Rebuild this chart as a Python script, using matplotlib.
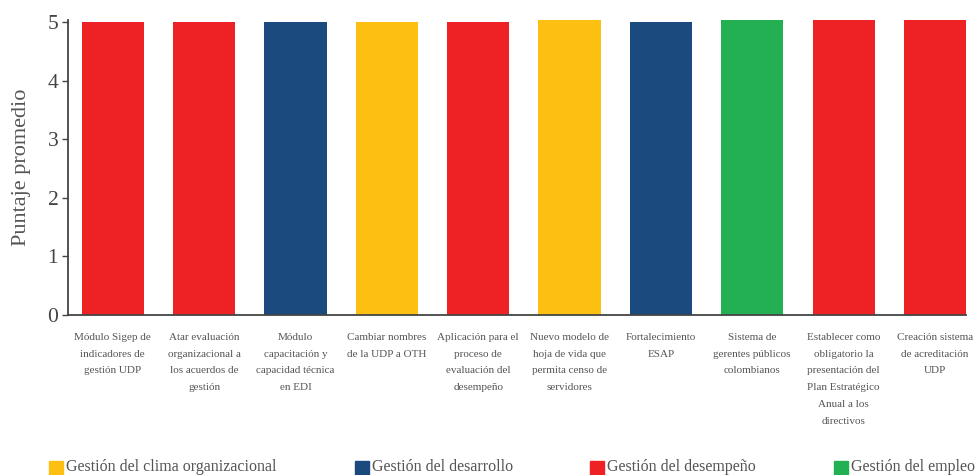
import matplotlib
matplotlib.use("Agg")
import matplotlib.pyplot as plt
from matplotlib.patches import Rectangle

# Iniciativas y su puntaje promedio
categorias = [
    "Módulo Sigep de\nindicadores de\ngestión UDP",
    "Atar evaluación\norganizacional a\nlos acuerdos de\ngestión",
    "Módulo\ncapacitación y\ncapacidad técnica\nen EDI",
    "Cambiar nombres\nde la UDP a OTH",
    "Aplicación para el\nproceso de\nevaluación del\ndesempeño",
    "Nuevo modelo de\nhoja de vida que\npermita censo de\nservidores",
    "Fortalecimiento\nESAP",
    "Sistema de\ngerentes públicos\ncolombianos",
    "Establecer como\nobligatorio la\npresentación del\nPlan Estratégico\nAnual a los\ndirectivos",
    "Creación sistema\nde acreditación\nUDP",
]
puntajes = [5.0, 5.0, 5.0, 5.0, 5.0, 5.03, 5.0, 5.03, 5.03, 5.03]
grupos = [
    "Gestión del desempeño",
    "Gestión del desempeño",
    "Gestión del desarrollo",
    "Gestión del clima organizacional",
    "Gestión del desempeño",
    "Gestión del clima organizacional",
    "Gestión del desarrollo",
    "Gestión del empleo",
    "Gestión del desempeño",
    "Gestión del desempeño",
]
orden_leyenda = [
    "Gestión del clima organizacional",
    "Gestión del desarrollo",
    "Gestión del desempeño",
    "Gestión del empleo",
]
colores = {
    "Gestión del clima organizacional": "#FDC012",
    "Gestión del desarrollo": "#1A4A7E",
    "Gestión del desempeño": "#EE2224",
    "Gestión del empleo": "#22B052",
}
yticks = [0, 1, 2, 3, 4, 5]

plt.rcParams["font.family"] = ["Liberation Serif", "DejaVu Serif"]
texto = "#444444"

W, H = 977, 475
fig = plt.figure(figsize=(W / 100, H / 100), dpi=100)
left, right, bottom, top = 68, 966, 315, 20
ax = fig.add_axes([left / W, 1 - bottom / H, (right - left) / W, (bottom - top) / H])

x = list(range(len(categorias)))
ax.bar(x, puntajes, width=0.68, color=[colores[g] for g in grupos], zorder=2)

ax.set_xlim(-0.49, 9.34)
ax.set_ylim(0, 5.034)
ax.set_yticks(yticks)
ax.set_yticklabels([str(t) for t in yticks], fontsize=15.5, color=texto)
ax.set_xticks(x)
ax.set_xticklabels(categorias, fontsize=8.0, color="#555555", va="top")
for lbl in ax.get_xticklabels():
    lbl.set_linespacing(2.1)
ax.tick_params(axis="x", length=0, pad=13)
ax.tick_params(axis="y", length=4, width=1, color="#444444", pad=3)

for s in ["top", "right"]:
    ax.spines[s].set_visible(False)
for s in ["left", "bottom"]:
    ax.spines[s].set_color("#444444")
    ax.spines[s].set_linewidth(1.3)

ax.set_ylabel("Puntaje promedio", fontsize=16, color="#555555", labelpad=12)

# Leyenda en la parte inferior
pos_leyenda = [49, 355, 590, 834]
for px, g in zip(pos_leyenda, orden_leyenda):
    fig.patches.append(Rectangle((px / W, 0), 14 / W, 14 / H,
                                 transform=fig.transFigure, color=colores[g]))
    fig.text((px + 17) / W, 1 - 467 / H, g, fontsize=11.5, color="#555555",
             va="center", ha="left")

fig.savefig("out.png", dpi=100)
